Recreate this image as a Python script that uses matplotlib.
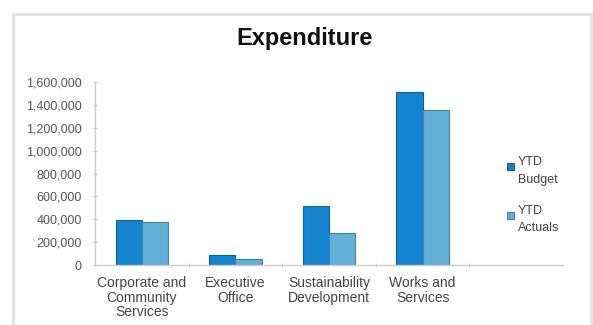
import matplotlib
matplotlib.use("Agg")
from matplotlib import pyplot as plt
from matplotlib.patches import Rectangle
from matplotlib.legend_handler import HandlerPatch
from matplotlib.ticker import FuncFormatter, FixedLocator
import numpy as np

categories = ["Corporate and\nCommunity\nServices", "Executive\nOffice",
              "Sustainability\nDevelopment", "Works and\nServices"]
ytd_budget = [395000, 90000, 518000, 1515000]
ytd_actuals = [375000, 55000, 283000, 1355000]
series_labels = ["YTD\nBudget", "YTD\nActuals"]

budget_color = "#1584d0"
budget_edge = "#0c5f98"
actual_color = "#62b0d6"
actual_edge = "#3d86aa"


def top_square(legend, orig_handle, xdescent, ydescent, width, height, fontsize):
    # small square sitting next to the first line of a two-line label
    s = 0.55 * fontsize
    return Rectangle((-xdescent, -ydescent + height - s - 0.3 * fontsize), s, s)


plt.rcParams["font.family"] = ["Liberation Sans", "DejaVu Sans"]
fig = plt.figure(figsize=(5.93, 3.25), dpi=100)

# light frame around the chart
fig.patches.append(Rectangle((13 / 593, -0.1), 578 / 593, 1.1 - 14 / 325,
                             transform=fig.transFigure, fill=False,
                             edgecolor="#e2e2e2", linewidth=2))

ax = fig.add_axes([95 / 593, 60 / 325, 468 / 593, 183 / 325])

x = np.arange(len(categories))
width = 0.28
b1 = ax.bar(x - width / 2, ytd_budget, width, color=budget_color,
            edgecolor=budget_edge, linewidth=0.8, label=series_labels[0])
b2 = ax.bar(x + width / 2, ytd_actuals, width, color=actual_color,
            edgecolor=actual_edge, linewidth=0.8, label=series_labels[1])

ax.set_xlim(-0.5, 4.5)
ax.set_ylim(0, 1600000)
ax.set_yticks(np.arange(0, 1600001, 200000))
ax.yaxis.set_major_formatter(FuncFormatter(lambda v, p: f"{int(v):,}"))
ax.tick_params(axis="y", labelsize=9, colors="#c8c8c8", labelcolor="#555555",
               length=3, direction="inout", pad=8)

ax.set_xticks(x)
ax.set_xticklabels(categories, fontsize=10, color="#444444", linespacing=1.05)
ax.tick_params(axis="x", length=0, pad=8)
ax.xaxis.set_minor_locator(FixedLocator(np.arange(0.5, 4.0, 1.0)))
ax.tick_params(axis="x", which="minor", length=3, color="#c8c8c8", direction="inout")

for side in ["top", "right"]:
    ax.spines[side].set_visible(False)
for side in ["left", "bottom"]:
    ax.spines[side].set_color("#cccccc")
    ax.spines[side].set_linewidth(1)

h1, h2 = b1.patches[0], b2.patches[0]
leg = ax.legend(handles=[h1, h2], labels=series_labels, loc="upper left",
                bbox_to_anchor=(507 / 593, 1 - 156 / 325),
                bbox_transform=fig.transFigure, frameon=False,
                handler_map={h1: HandlerPatch(patch_func=top_square),
                             h2: HandlerPatch(patch_func=top_square)},
                handlelength=0.55, handleheight=2.6, handletextpad=0.3,
                labelspacing=1.5, fontsize=9, labelcolor="#444444",
                borderpad=0, borderaxespad=0)
for t in leg.get_texts():
    t.set_linespacing(1.65)
    t.set_multialignment("left")

fig.text(305 / 593, 1 - 38 / 325, "Expenditure", ha="center", va="center",
         fontsize=17, fontweight="bold", color="#111111")

fig.savefig("out.png", dpi=100)
